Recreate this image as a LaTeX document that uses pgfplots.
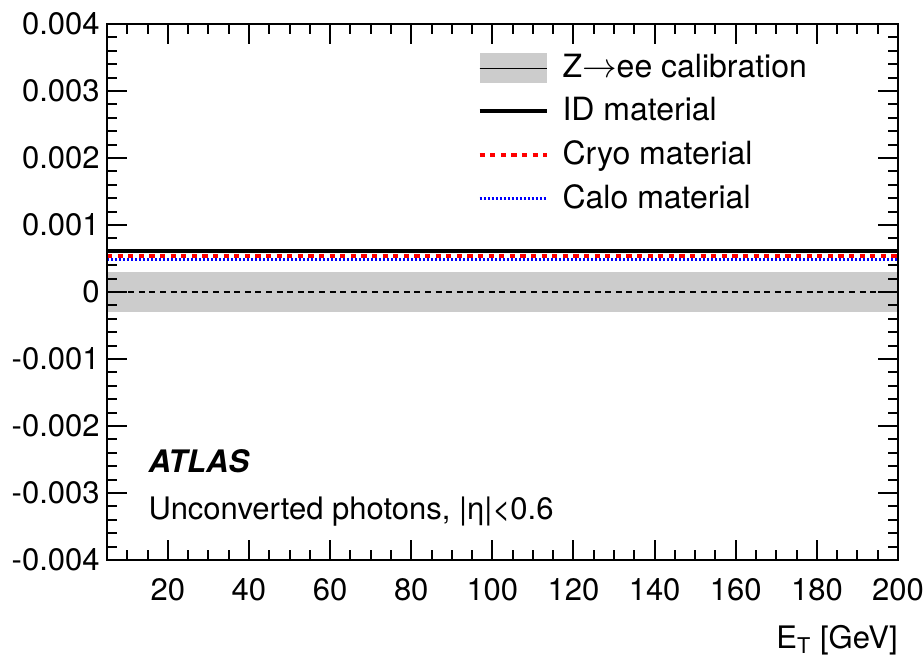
\documentclass[border=0pt]{standalone}
\usepackage{pgfplots}
\pgfplotsset{compat=1.18}
\usepackage{fontspec}
\setmainfont{TeX Gyre Heros}
\definecolor{bandgray}{RGB}{204,204,204}
\begin{document}
\fontsize{15.5}{18.6}\selectfont
\begin{tikzpicture}
\useasboundingbox (-53.5pt,-49pt) rectangle (408.5pt,280pt);
\begin{axis}[
  scale only axis, width=395.5pt, height=268pt,
  at={(0,0)}, anchor=south west,
  xmin=5, xmax=200, ymin=-0.004, ymax=0.004,
  axis on top,
  axis line style={line width=1pt},
  xtick={20,40,60,80,100,120,140,160,180,200},
  xticklabels={20,40,60,80,100,120,140,160,180,200},
  minor xtick={5,10,...,200},
  ytick={-0.004,-0.003,-0.002,-0.001,0,0.001,0.002,0.003,0.004},
  yticklabels={-0.004,-0.003,-0.002,-0.001,0,0.001,0.002,0.003,0.004},
  minor y tick num=4,
  scaled y ticks=false,
  tick style={line width=1pt, black},
  major tick length=10pt, minor tick length=5pt,
  tick align=inside,
  xticklabel style={anchor=base, inner sep=0pt, yshift=-20pt},
  yticklabel style={anchor=east, inner sep=0pt, xshift=-3.5pt},
  xlabel={E\textsubscript{T} [GeV]},
  xlabel style={at={(axis description cs:1,0)}, anchor=base east, inner sep=0pt, yshift=-44pt},
  legend cell align=left,
  legend style={draw=none, fill=none, at={(rel axis cs:0.468,0.952)}, anchor=north west,
    inner sep=0pt, row sep=3.6pt, font=\fontsize{16}{19.2}\selectfont,
    /tikz/every odd column/.append style={column sep=5pt}},
]
\addplot[fill=bandgray, draw=none,
  legend image code/.code={\fill[bandgray] (0pt,-7.5pt) rectangle (33.5pt,7.5pt); \draw[black,line width=0.5pt] (0pt,0pt) -- (33.5pt,0pt);}]
  coordinates {(5,-0.0003) (200,-0.0003) (200,0.0003) (5,0.0003)} -- cycle;
\addlegendentry{Z$\rightarrow$ee calibration}
\addplot[black, line width=0.6pt, dash pattern=on 3pt off 2.3pt, forget plot]
  coordinates {(5,0) (200,0)};
\addplot[black, line width=2pt,
  legend image code/.code={\draw[black,line width=2pt] (0pt,0pt) -- (33.5pt,0pt);}]
  coordinates {(5,0.00061) (200,0.00061)};
\addlegendentry{ID material}
\addplot[red, line width=1.8pt, dash pattern=on 2.6pt off 2.7pt,
  legend image code/.code={\draw[red,line width=1.8pt,dash pattern=on 2.6pt off 2.7pt] (0pt,0pt) -- (33.5pt,0pt);}]
  coordinates {(5,0.00054) (200,0.00054)};
\addlegendentry{Cryo material}
\addplot[blue, line width=1.5pt, dash pattern=on 1pt off 1pt,
  legend image code/.code={\draw[blue,line width=1.5pt,dash pattern=on 1pt off 1pt] (0pt,0pt) -- (33.5pt,0pt);}]
  coordinates {(5,0.00048) (200,0.00048)};
\addlegendentry{Calo material}
\node[anchor=base west, inner sep=0pt, font=\bfseries\itshape] at (rel axis cs:0.052,0.164) {ATLAS};
\node[anchor=base west, inner sep=0pt] at (rel axis cs:0.052,0.075) {Unconverted photons, |η|<0.6};
\end{axis}
\end{tikzpicture}
\end{document}
